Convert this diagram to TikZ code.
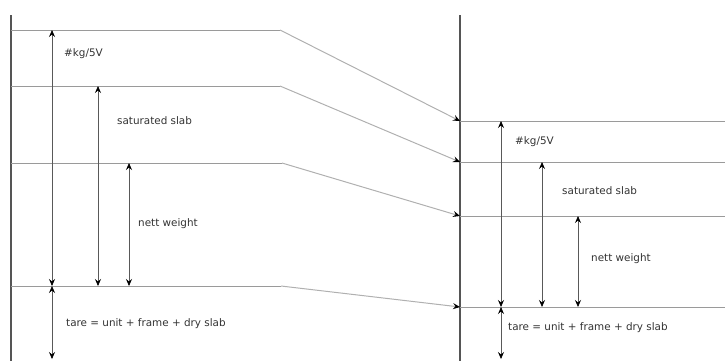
\documentclass[tikz,border=0pt]{standalone}
\usepackage{fontspec}
\setmainfont{DejaVu Sans}
\usetikzlibrary{arrows.meta}
\definecolor{axisc}{HTML}{555555}
\definecolor{levc}{HTML}{9A9A9A}
\definecolor{slc}{HTML}{B0B0B0}
\definecolor{txtc}{HTML}{333333}
\tikzset{
  axisline/.style={draw=axisc,line width=1.8pt},
  level/.style={draw=levc,line width=1pt},
  shift arrow/.style={draw=slc,line width=1pt,-{Stealth[length=7pt,width=6pt,inset=2.5pt,black]}},
  dim/.style={draw=black!65,line width=0.7pt,{Stealth[length=7pt,width=6pt,inset=2.5pt,black]}-{Stealth[length=7pt,width=6pt,inset=2.5pt,black]}},
  lab/.style={anchor=west,text=txtc,font=\fontsize{10.4pt}{12pt}\selectfont,inner sep=0pt}
}
\begin{document}
\begin{tikzpicture}[x=1pt,y=-1pt]
\useasboundingbox (0,0) rectangle (725,360);
% axes
\coordinate (LA0) at (11,15); \coordinate (LA1) at (11,362);
\coordinate (RA0) at (460,15); \coordinate (RA1) at (460,362);
\draw[axisline] (LA0) -- (LA1);
\draw[axisline] (RA0) -- (RA1);
% left levels
\coordinate (L1a) at (11,30);  \coordinate (L1b) at (280,30);
\coordinate (L2a) at (11,86);  \coordinate (L2b) at (280,86);
\coordinate (L3a) at (11,163); \coordinate (L3b) at (282,163);
\coordinate (L4a) at (11,286); \coordinate (L4b) at (281,286);
\draw[level] (L1a) -- (L1b);
\draw[level] (L2a) -- (L2b);
\draw[level] (L3a) -- (L3b);
\draw[level] (L4a) -- (L4b);
% right levels
\coordinate (R1a) at (460,121); \coordinate (R1b) at (725,121);
\coordinate (R2a) at (460,162); \coordinate (R2b) at (725,162);
\coordinate (R3a) at (460,216); \coordinate (R3b) at (725,216);
\coordinate (R4a) at (460,307); \coordinate (R4b) at (725,307);
\draw[level] (R1a) -- (R1b);
\draw[level] (R2a) -- (R2b);
\draw[level] (R3a) -- (R3b);
\draw[level] (R4a) -- (R4b);
% shift arrows
\draw[shift arrow] (L1b) -- (R1a);
\draw[shift arrow] (L2b) -- (R2a);
\draw[shift arrow] (L3b) -- (R3a);
\draw[shift arrow] (L4b) -- (R4a);
% left dimensions
\coordinate (lk0) at (52,30);  \coordinate (lk1) at (52,286);
\coordinate (ls0) at (98,86);  \coordinate (ls1) at (98,286);
\coordinate (ln0) at (129,163);\coordinate (ln1) at (129,286);
\coordinate (lt0) at (52,286); \coordinate (lt1) at (52,359);
\draw[dim] (lk0) -- (lk1);
\draw[dim] (ls0) -- (ls1);
\draw[dim] (ln0) -- (ln1);
\draw[dim] (lt0) -- (lt1);
\node[lab] (lkl) at (64,54) {\#kg/5V};
\node[lab] (lsl) at (117,121) {saturated slab};
\node[lab] (lnl) at (138,224) {nett weight};
\node[lab] (ltl) at (66,324) {tare = unit + frame + dry slab};
% right dimensions
\coordinate (rk0) at (501,121); \coordinate (rk1) at (501,307);
\coordinate (rs0) at (542,162); \coordinate (rs1) at (542,307);
\coordinate (rn0) at (578,216); \coordinate (rn1) at (578,307);
\coordinate (rt0) at (501,307); \coordinate (rt1) at (501,359);
\draw[dim] (rk0) -- (rk1);
\draw[dim] (rs0) -- (rs1);
\draw[dim] (rn0) -- (rn1);
\draw[dim] (rt0) -- (rt1);
\node[lab] (rkl) at (515,142) {\#kg/5V};
\node[lab] (rsl) at (562,191) {saturated slab};
\node[lab] (rnl) at (591,259) {nett weight};
\node[lab] (rtl) at (508,328) {tare = unit + frame + dry slab};
\end{tikzpicture}
\end{document}
